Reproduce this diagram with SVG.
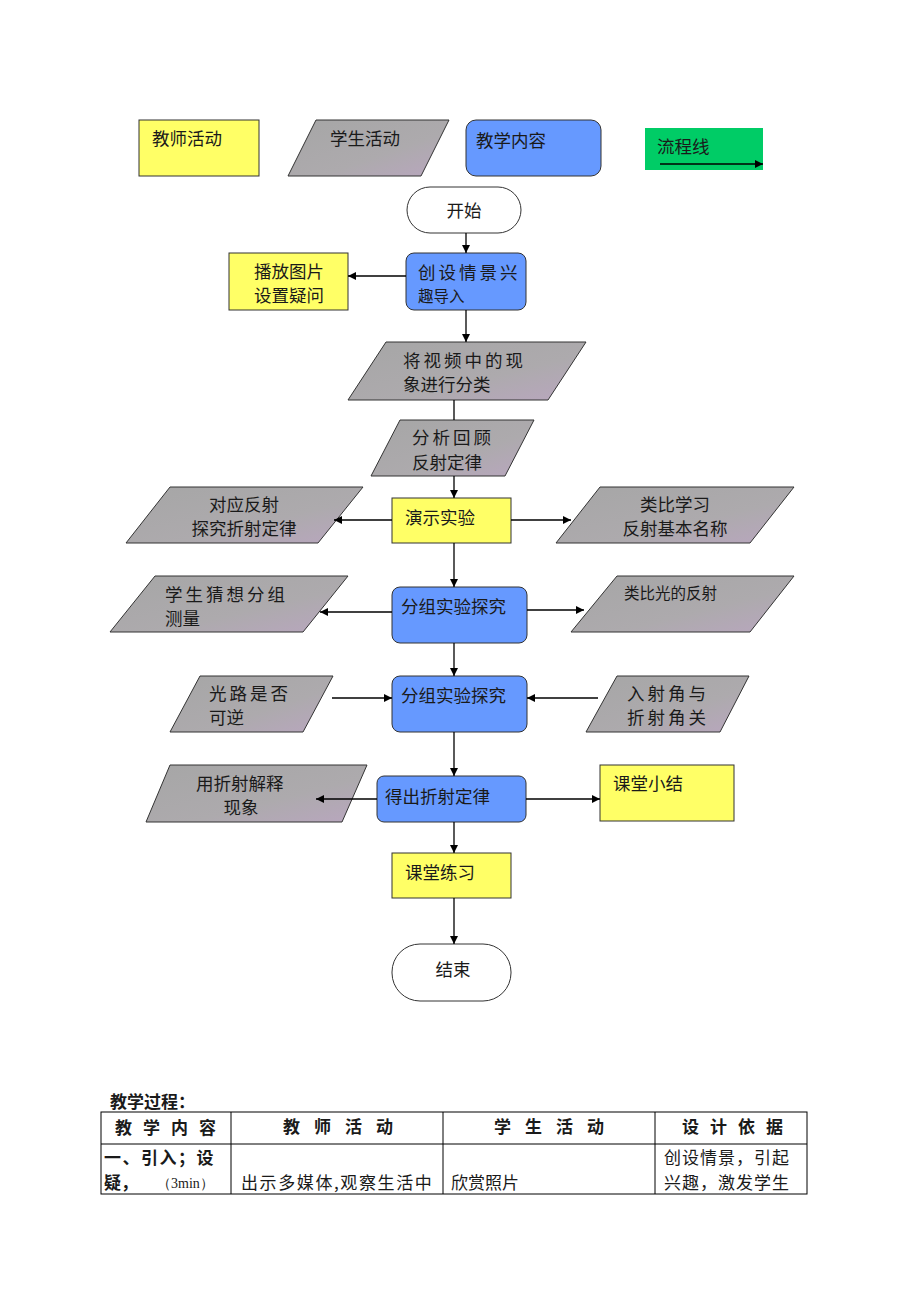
<svg xmlns="http://www.w3.org/2000/svg" width="920" height="1302" viewBox="0 0 920 1302">
<style>
text{font-family:"Noto Sans CJK SC","Noto Sans CJK JP",sans-serif;font-size:17.5px;fill:#1a1a1a}
.y{fill:#ffff66;stroke:#333;stroke-width:1}
.b{fill:#6699ff;stroke:#333;stroke-width:1}
.p{fill:url(#pg);stroke:#333;stroke-width:1}
.w{fill:#fff;stroke:#333;stroke-width:1}
.c line,.c path{stroke:#000;stroke-width:1.3;fill:none}
.s{font-size:15.5px}
.ls{letter-spacing:3px}
.m{text-anchor:middle}
.t text{font-size:17px}
.tb{font-weight:bold}
.tl line,.tl rect{stroke:#000;stroke-width:1;fill:none}
</style>
<defs>
<linearGradient id="pg" x1="0" y1="0" x2="1" y2="1">
<stop offset="0" stop-color="#a6a6a6"/>
<stop offset="0.6" stop-color="#adaaad"/>
<stop offset="1" stop-color="#b9a6bf"/>
</linearGradient>
<marker id="ah" viewBox="0 0 10 10" refX="10" refY="5" markerWidth="8" markerHeight="8" markerUnits="userSpaceOnUse" orient="auto">
<path d="M0,0 L10,5 L0,10 z" fill="#000"/>
</marker>
</defs>
<rect width="920" height="1302" fill="#fff"/>

<g id="legend-teacher"><rect class="y" x="139" y="120" width="120" height="56"/><text x="152" y="145">教师活动</text></g>
<g id="legend-student"><path class="p" d="M316,120 L449,120 L421,176 L288,176 Z"/><text x="330" y="145">学生活动</text></g>
<g id="legend-content"><rect class="b" x="466" y="120" width="135" height="56" rx="10"/><text x="476" y="147">教学内容</text></g>
<g id="legend-flow"><rect x="645" y="128" width="118" height="42" fill="#00cc66"/><text x="657" y="153">流程线</text><line x1="660" y1="164" x2="763" y2="164" stroke="#000" stroke-width="1.3" marker-end="url(#ah)"/></g>

<g id="start"><rect class="w" x="407" y="187" width="114" height="46" rx="23"/><text class="m" x="464" y="217">开始</text></g>
<g id="n1"><rect class="b" x="406" y="253" width="120" height="57" rx="8"/><text x="418" y="279" style="letter-spacing:3px">创设情景兴</text><text x="418" y="302" class="s">趣导入</text></g>
<g id="n1l"><rect class="y" x="229" y="253" width="119" height="57"/><text class="m" x="289" y="278">播放图片</text><text class="m" x="289" y="302">设置疑问</text></g>
<g id="n2"><path class="p" d="M386,342 L586,342 L548,400 L348,400 Z"/><text x="403" y="367" class="ls">将视频中的现</text><text x="403" y="391">象进行分类</text></g>
<g id="n3"><path class="p" d="M400,420 L534,420 L505,476 L371,476 Z"/><text x="412" y="444" class="ls">分析回顾</text><text x="412" y="469">反射定律</text></g>
<g id="n4"><rect class="y" x="392" y="498" width="119" height="45"/><text x="405" y="524">演示实验</text></g>
<g id="n4l"><path class="p" d="M170,487 L363,487 L318,543 L126,543 Z"/><text class="m" x="244" y="511">对应反射</text><text class="m" x="244" y="535">探究折射定律</text></g>
<g id="n4r"><path class="p" d="M600,487 L794,487 L750,543 L556,543 Z"/><text class="m" x="675" y="511">类比学习</text><text class="m" x="675" y="535">反射基本名称</text></g>
<g id="n5"><rect class="b" x="392" y="587" width="135" height="56" rx="8"/><text x="401" y="613">分组实验探究</text></g>
<g id="n5l"><path class="p" d="M155,576 L348,576 L303,632 L110,632 Z"/><text x="165" y="601" class="ls">学生猜想分组</text><text x="165" y="625">测量</text></g>
<g id="n5r"><path class="p" d="M617,576 L794,576 L750,632 L571,632 Z"/><text x="624" y="599" class="s">类比光的反射</text></g>
<g id="n6"><rect class="b" x="392" y="676" width="135" height="56" rx="8"/><text x="401" y="702">分组实验探究</text></g>
<g id="n6l"><path class="p" d="M200,676 L333,676 L303,732 L170,732 Z"/><text x="209" y="700" class="ls">光路是否</text><text x="209" y="724">可逆</text></g>
<g id="n6r"><path class="p" d="M617,676 L749,676 L720,732 L586,732 Z"/><text x="627" y="700" class="ls">入射角与</text><text x="627" y="724" class="ls">折射角关</text></g>
<g id="n7"><rect class="b" x="377" y="776" width="149" height="46" rx="7"/><text x="385" y="803">得出折射定律</text></g>
<g id="n7l"><path class="p" d="M170,765 L367,765 L342,822 L146,822 Z"/><text x="196" y="790">用折射解释</text><text class="m" x="241" y="814">现象</text></g>
<g id="n7r"><rect class="y" x="600" y="765" width="134" height="56"/><text x="613" y="790">课堂小结</text></g>
<g id="n8"><rect class="y" x="392" y="853" width="119" height="45"/><text x="405" y="879">课堂练习</text></g>
<g id="end"><rect class="w" x="392" y="944" width="119" height="57" rx="28"/><text class="m" x="453" y="976">结束</text></g>

<g id="connectors" class="c">
<line x1="466" y1="233" x2="466" y2="253" marker-end="url(#ah)"/>
<line x1="406" y1="276" x2="348" y2="276" marker-end="url(#ah)"/>
<line x1="466" y1="310" x2="466" y2="342" marker-end="url(#ah)"/>
<line x1="454" y1="400" x2="454" y2="420"/>
<line x1="454" y1="476" x2="454" y2="498" marker-end="url(#ah)"/>
<line x1="392" y1="520" x2="334" y2="520" marker-end="url(#ah)"/>
<line x1="511" y1="520" x2="571" y2="520" marker-end="url(#ah)"/>
<line x1="454" y1="543" x2="454" y2="587" marker-end="url(#ah)"/>
<line x1="392" y1="612" x2="320" y2="612" marker-end="url(#ah)"/>
<line x1="527" y1="610" x2="584" y2="610" marker-end="url(#ah)"/>
<line x1="454" y1="643" x2="454" y2="676" marker-end="url(#ah)"/>
<line x1="332" y1="698" x2="392" y2="698" marker-end="url(#ah)"/>
<line x1="598" y1="698" x2="527" y2="698" marker-end="url(#ah)"/>
<line x1="454" y1="732" x2="454" y2="776" marker-end="url(#ah)"/>
<line x1="377" y1="799" x2="316" y2="799" marker-end="url(#ah)"/>
<line x1="526" y1="799" x2="600" y2="799" marker-end="url(#ah)"/>
<line x1="454" y1="822" x2="454" y2="853" marker-end="url(#ah)"/>
<line x1="454" y1="898" x2="454" y2="944" marker-end="url(#ah)"/>
</g>

<g id="table" class="t">
<text x="110" y="1108" class="tb">教学过程：</text>
<g class="tl">
<rect x="101" y="1112" width="706" height="82"/>
<line x1="101" y1="1144" x2="807" y2="1144"/>
<line x1="231" y1="1112" x2="231" y2="1194"/>
<line x1="443" y1="1112" x2="443" y2="1194"/>
<line x1="655" y1="1112" x2="655" y2="1194"/>
</g>
<text x="115" y="1134" class="tb" style="letter-spacing:11px">教学内容</text>
<text x="283" y="1133" class="tb" style="letter-spacing:14px">教师活动</text>
<text x="494" y="1133" class="tb" style="letter-spacing:14px">学生活动</text>
<text x="682" y="1133" class="tb" style="letter-spacing:11px">设计依据</text>
<text x="104" y="1164" class="tb" style="letter-spacing:1.5px">一、引入；设</text>
<text x="104" y="1189" class="tb">疑，</text>
<text x="157" y="1188" style="font-family:'Liberation Serif',serif;font-size:14px">（3min）</text>
<text x="241" y="1189" style="letter-spacing:1.6px">出示多媒体,观察生活中</text>
<text x="451" y="1189">欣赏照片</text>
<text x="664" y="1164" style="letter-spacing:1px">创设情景，引起</text>
<text x="664" y="1189" style="letter-spacing:1px">兴趣，激发学生</text>
</g>
</svg>
